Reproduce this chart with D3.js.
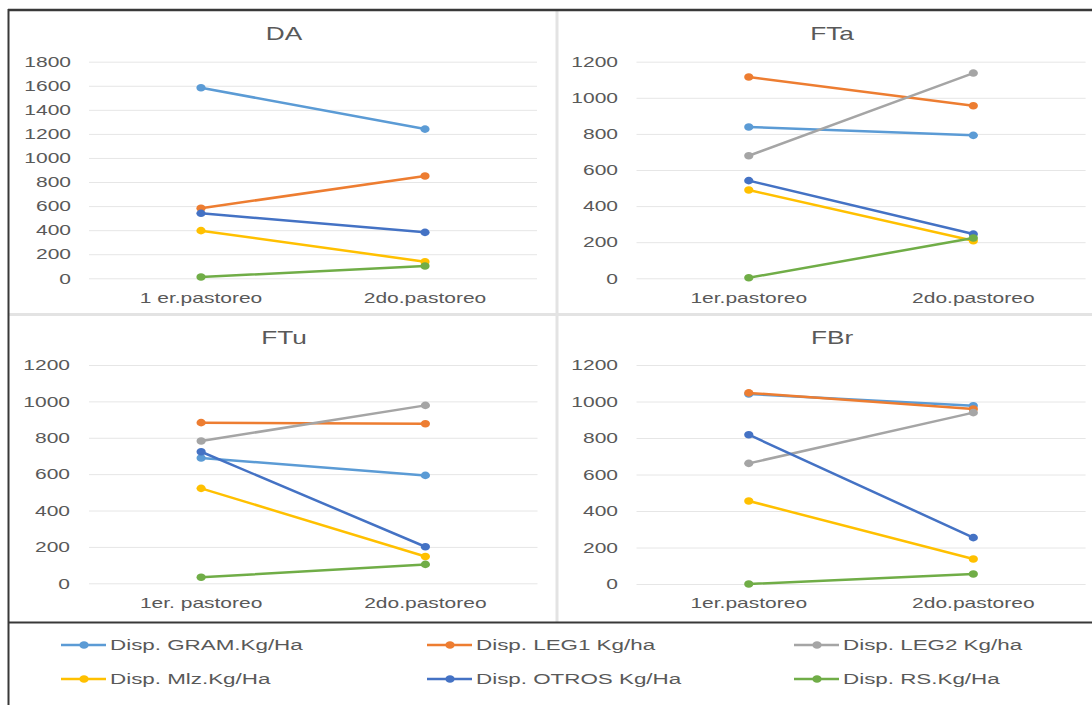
<!DOCTYPE html>
<html>
<head>
<meta charset="utf-8">
<script src="https://cdn.jsdelivr.net/npm/d3@7"></script>
<style>
  html, body { margin: 0; padding: 0; background: #fff; }
  svg { display: block; font-family: "Liberation Sans", Arial, sans-serif; }
</style>
</head>
<body>
<svg id="chart" width="1092" height="705"></svg>
<script>
// ---- data ----
const categories = ["1er.pastoreo", "2do.pastoreo"];
const panelNames = ["DA", "FTa", "FTu", "FBr"];
const categoryLabels = [
  ["1 er.pastoreo", "2do.pastoreo"],
  ["1er.pastoreo", "2do.pastoreo"],
  ["1er. pastoreo", "2do.pastoreo"],
  ["1er.pastoreo", "2do.pastoreo"]
];
const seriesNames = [
  "Disp. GRAM.Kg/Ha", "Disp. LEG1 Kg/ha", "Disp. LEG2 Kg/ha",
  "Disp. Mlz.Kg/Ha", "Disp. OTROS Kg/Ha", "Disp. RS.Kg/Ha"
];
// values per panel (DA, FTa, FTu, FBr), each [1er, 2do]
const gramValues  = [[1584, 1240], [838, 792],  [689, 593], [1041, 977]];
const leg1Values  = [[582, 850],   [1115, 956], [883, 877], [1047, 959]];
const leg2Values  = [null,         [679, 1137], [782, 978], [661, 939]];
const mlzValues   = [[396, 138],   [489, 208],  [522, 147], [455, 137]];
const otrosValues = [[540, 382],   [541, 245],  [723, 201], [818, 254]];
const rsValues    = [[11, 102],    [3, 223],    [33, 104],  [0, 55]];
const daTicks = [0, 200, 400, 600, 800, 1000, 1200, 1400, 1600, 1800];
const fTicks  = [0, 200, 400, 600, 800, 1000, 1200];

// ---- styling / layout ----
const seriesColors = ["#5B9BD5", "#ED7D31", "#A5A5A5", "#FFC000", "#4472C4", "#70AD47"];
const allSeries = [gramValues, leg1Values, leg2Values, mlzValues, otrosValues, rsValues];
const textGrey = "#595959";
const stretch = 1.5;

const panels = [
  { x0: 89,    x1: 537,    yBottom: 278.3, yTop: 61.7, max: 1800, ticks: daTicks, titleX: 284, titleY: 33,  tickRight: 71,  catY: 298 },
  { x0: 636.5, x1: 1085.6, yBottom: 278.3, yTop: 61.7, max: 1200, ticks: fTicks,  titleX: 832, titleY: 33,  tickRight: 618, catY: 298 },
  { x0: 89,    x1: 537.5,  yBottom: 583.3, yTop: 365,  max: 1200, ticks: fTicks,  titleX: 284, titleY: 337, tickRight: 70,  catY: 603 },
  { x0: 636.5, x1: 1085.6, yBottom: 584,   yTop: 365,  max: 1200, ticks: fTicks,  titleX: 832, titleY: 337, tickRight: 618, catY: 603 }
];

const svg = d3.select("#chart");

// frame and dividers
svg.append("line").attr("x1", 557).attr("x2", 557).attr("y1", 10).attr("y2", 622)
  .attr("stroke", "#e3e3e3").attr("stroke-width", 3);
svg.append("line").attr("x1", 9).attr("x2", 1092).attr("y1", 314.5).attr("y2", 314.5)
  .attr("stroke", "#e3e3e3").attr("stroke-width", 3);
svg.append("line").attr("x1", 8).attr("x2", 1092).attr("y1", 10).attr("y2", 10)
  .attr("stroke", "#383838").attr("stroke-width", 2.5);
svg.append("line").attr("x1", 8).attr("x2", 1092).attr("y1", 622.5).attr("y2", 622.5)
  .attr("stroke", "#383838").attr("stroke-width", 2);
svg.append("line").attr("x1", 8.5).attr("x2", 8.5).attr("y1", 9).attr("y2", 705)
  .attr("stroke", "#383838").attr("stroke-width", 2);

function stretchedText(g, x, y, str, size, anchor, fill) {
  return g.append("text")
    .attr("transform", `translate(${x},${y}) scale(${stretch},1)`)
    .attr("text-anchor", anchor)
    .attr("dominant-baseline", "central")
    .attr("font-size", size)
    .attr("fill", fill)
    .text(str);
}

panels.forEach((p, pi) => {
  const g = svg.append("g");
  const x = d3.scalePoint().domain(categories).range([p.x0, p.x1]).padding(0.5);
  const y = d3.scaleLinear().domain([0, p.max]).range([p.yBottom, p.yTop]);

  // gridlines + tick labels via axis
  const axis = d3.axisLeft(y).tickValues(p.ticks).tickSize(-(p.x1 - p.x0)).tickFormat(d3.format("d"));
  const ag = g.append("g").attr("transform", `translate(${p.x0},0)`).call(axis);
  ag.select(".domain").remove();
  ag.selectAll(".tick line").attr("stroke", "#e6e6e6").attr("stroke-width", 1);
  ag.selectAll(".tick text")
    .attr("x", null).attr("dy", null)
    .attr("transform", `translate(${p.tickRight - p.x0},0) scale(${stretch},1)`)
    .attr("text-anchor", "end")
    .attr("dominant-baseline", "central")
    .attr("font-size", 14)
    .attr("font-family", "Liberation Sans, Arial, sans-serif")
    .attr("fill", textGrey);

  // title
  stretchedText(g, p.titleX, p.titleY, panelNames[pi], 19, "middle", textGrey).attr("transform",
    `translate(${p.titleX},${p.titleY}) scale(1.38,1)`);

  // category labels
  categories.forEach((c, ci) => {
    stretchedText(g, x(c), p.catY, categoryLabels[pi][ci], 14, "middle", textGrey);
  });

  // series
  const line = d3.line().x((d, i) => x(categories[i])).y(d => y(d));
  allSeries.forEach((s, si) => {
    const vals = s[pi];
    if (!vals) return;
    g.append("path").datum(vals)
      .attr("d", line)
      .attr("fill", "none")
      .attr("stroke", seriesColors[si])
      .attr("stroke-width", 2.5)
      .attr("stroke-linecap", "round");
    g.selectAll(null).data(vals).enter().append("ellipse")
      .attr("cx", (d, i) => x(categories[i]))
      .attr("cy", d => y(d))
      .attr("rx", 4.6).attr("ry", 3.8)
      .attr("fill", seriesColors[si]);
  });
});

// legend
const legendCols = [61, 427, 794];
const legendRows = [645, 679];
seriesNames.forEach((name, i) => {
  const lx = legendCols[i % 3];
  const ly = legendRows[Math.floor(i / 3)];
  const lg = svg.append("g");
  lg.append("line").attr("x1", lx).attr("x2", lx + 45).attr("y1", ly).attr("y2", ly)
    .attr("stroke", seriesColors[i]).attr("stroke-width", 2.5);
  lg.append("ellipse").attr("cx", lx + 23).attr("cy", ly).attr("rx", 4.6).attr("ry", 3.8)
    .attr("fill", seriesColors[i]);
  lg.append("text")
    .attr("transform", `translate(${lx + 49},${ly}) scale(1.6,1)`)
    .attr("dominant-baseline", "central")
    .attr("font-size", 14)
    .attr("fill", textGrey)
    .text(name);
});
</script>
</body>
</html>
